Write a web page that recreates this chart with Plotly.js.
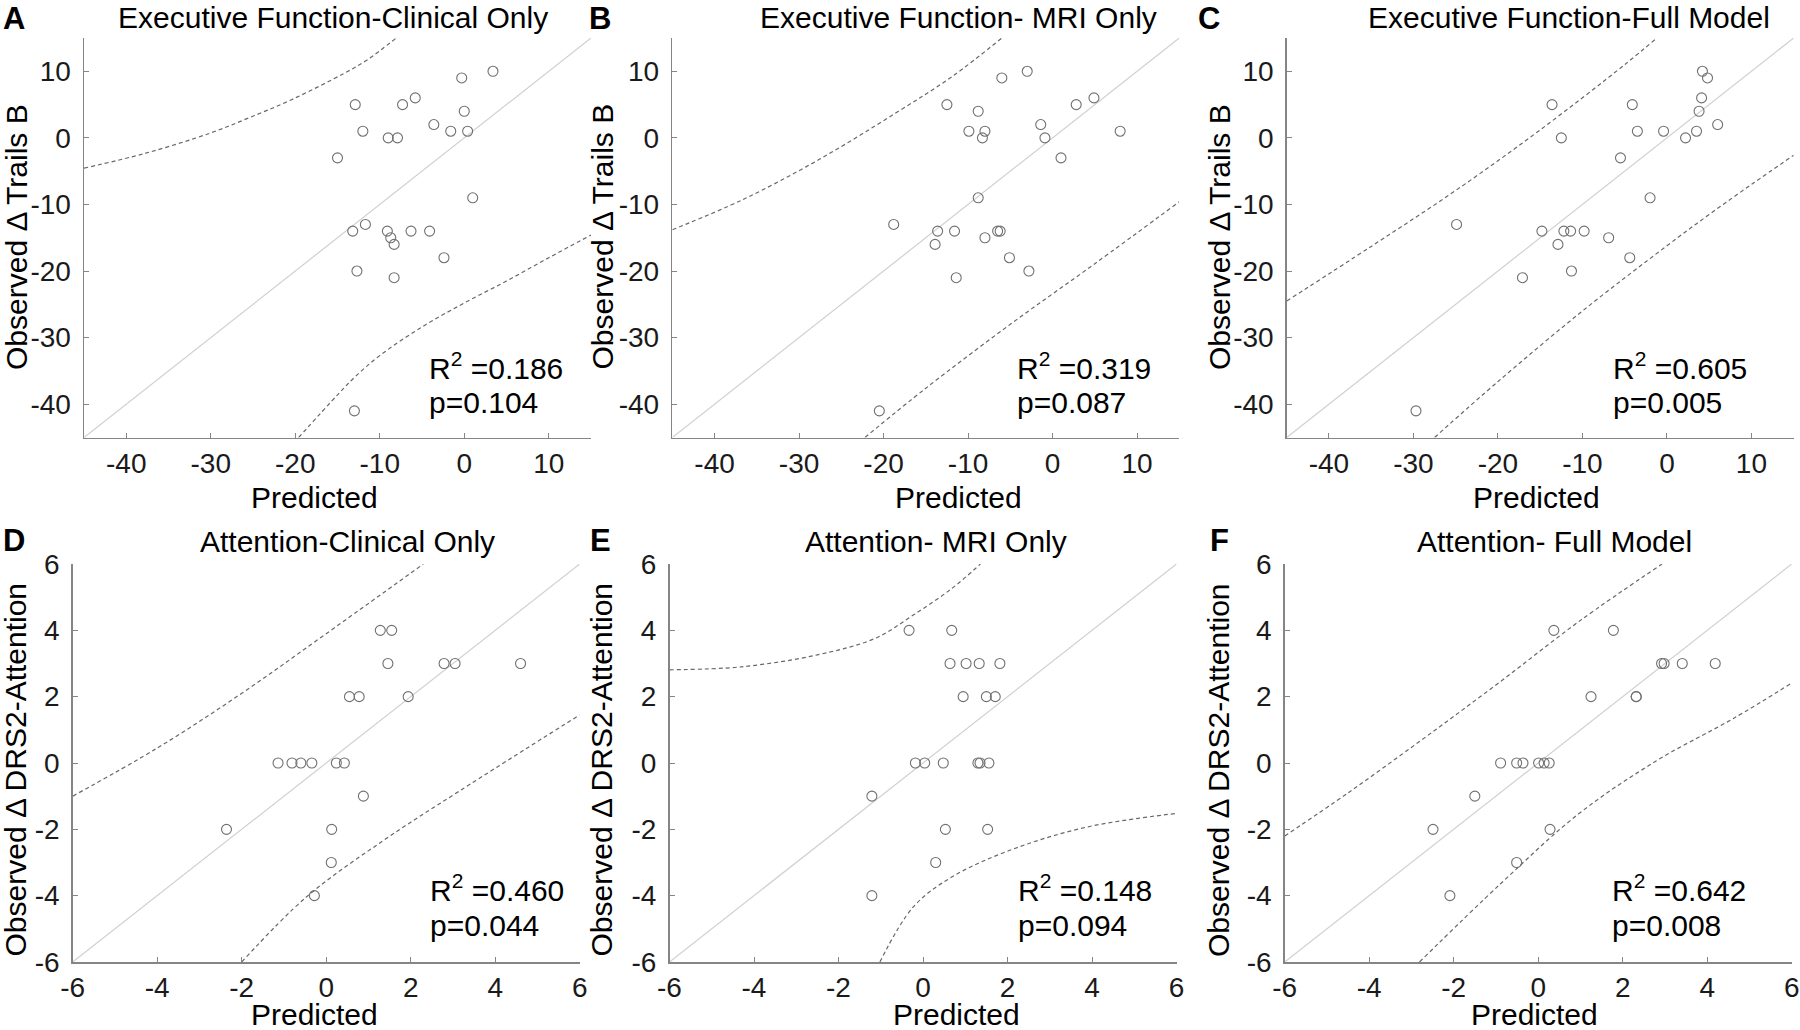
<!DOCTYPE html>
<html>
<head>
<meta charset="utf-8">
<script src="https://cdn.plot.ly/plotly-3.0.1.min.js"></script>
<style>html,body{margin:0;padding:0;background:#fff;}</style>
</head>
<body>
<div id="chart" style="width:1800px;height:1030px;"></div>
<script>
// ---------------- DATA ----------------
// Executive function (Observed Δ Trails B)
const efObserved = [10, 9, 5, 5, 6, 4, 2, 1, 1, 1, 0, 0, -3, -9, -13, -14, -14, -14, -14, -15, -16, -18, -20, -21, -41];
const efClinicalPred = [3.4, -0.3, -12.9, -7.3, -5.8, 0.0, -3.6, -12.0, -1.6, 0.4, -9.0, -7.9, -15.0, 1.0, -11.7, -13.2, -9.1, -6.3, -4.1, -8.7, -8.3, -2.4, -12.7, -8.3, -13.0];
const efMriPred = [-3.0, -6.0, -12.5, 2.8, 4.9, -8.8, -1.4, -9.9, -8.0, 8.0, -8.3, -0.9, 1.0, -8.8, -18.8, -13.6, -11.6, -6.5, -6.2, -8.0, -13.9, -5.1, -2.8, -11.4, -20.5];
const efFullPred = [4.2, 4.8, -13.6, -4.1, 4.1, 3.8, 6.0, -3.5, -0.4, 3.5, -12.5, 2.2, -5.5, -2.0, -24.9, -14.8, -12.2, -11.4, -9.8, -6.9, -12.9, -4.4, -11.3, -17.1, -29.7];

// Attention (Observed Δ DRS2-Attention)
const attObserved = [4, 4, 3, 3, 3, 3, 2, 2, 2, 0, 0, 0, 0, 0, 0, -1, -2, -2, -3, -4];
const attClinicalPred = [1.28, 1.55, 1.46, 2.79, 3.05, 4.6, 0.55, 0.78, 1.94, -1.14, -0.81, -0.6, -0.34, 0.24, 0.43, 0.88, -2.36, 0.13, 0.12, -0.28];
const attMriPred = [-0.33, 0.68, 0.64, 1.02, 1.33, 1.82, 0.95, 1.5, 1.71, -0.18, 0.04, 0.48, 1.30, 1.35, 1.56, -1.21, 0.53, 1.53, 0.30, -1.21];
const attFullPred = [0.37, 1.78, 2.92, 2.98, 3.41, 4.19, 1.25, 2.32, 2.32, -0.89, -0.51, -0.36, 0.01, 0.14, 0.26, -1.5, -2.49, 0.28, -0.51, -2.09];

// Identity lines (axis extents)
const efIdentity = [-45, 15];
const attIdentity = [-6, 6];

// Prediction bands (dashed)
const efClinUpperX = [-45, -37.7, -30.1, -25.5, -20.5, -14.2, -11.5, -8.05];
const efClinUpperY = [-4.55, -2.3, 0.7, 3.0, 5.7, 9.7, 11.7, 15];
const efClinLowerX = [-19.6, -15, -12.85, -10, -5, 0, 5, 10, 15];
const efClinLowerY = [-45, -38.6, -35.8, -32.7, -28.4, -24.8, -21.5, -18.0, -14.6];

const efMriUpperX = [-45, -36.7, -27.7, -18.6, -11.9, -6];
const efMriUpperY = [-13.8, -9.3, -3.3, 3.7, 9.2, 15];
const efMriLowerX = [-22.2, -15, -5, 5, 15];
const efMriLowerY = [-45, -37.6, -28.0, -18.9, -9.6];

const efFullUpperX = [-45, -35, -25, -15, -5, -1.2];
const efFullUpperY = [-24.5, -16.3, -7.9, 1.2, 11.0, 15];
const efFullLowerX = [-27.5, -20, -10, 0, 5, 10, 15];
const efFullLowerY = [-45, -36.6, -26.0, -16.2, -11.5, -7.0, -2.6];

const attClinUpperX = [-6, -4, -2, 0, 2.3];
const attClinUpperY = [-1.0, 0.45, 2.1, 3.9, 6.0];
const attClinLowerX = [-2, -0.47, 1.35, 3.16, 6];
const attClinLowerY = [-6, -4.04, -2.34, -0.84, 1.45];

const attMriUpperX = [-6, -4.3, -2.5, -1.13, -0.23, 0.68, 1.36];
const attMriUpperY = [2.81, 2.9, 3.26, 3.76, 4.46, 5.26, 6];
const attMriLowerX = [-1.02, -0.23, 0.68, 2.04, 3.85, 6];
const attMriLowerY = [-6, -4.34, -3.44, -2.64, -1.94, -1.52];

const attFullUpperX = [-6, -4.5, -2.7, -0.9, 1, 2.93];
const attFullUpperY = [-2.2, -0.9, 0.75, 2.45, 4.3, 6.0];
const attFullLowerX = [-2.81, -0.89, 0.95, 2.79, 4.63, 6];
const attFullLowerY = [-6, -3.64, -1.54, 0.06, 1.35, 2.41];

// Text
const panelLetters = ['A', 'B', 'C', 'D', 'E', 'F'];
const panelTitles = ['Executive Function-Clinical Only', 'Executive Function- MRI Only', 'Executive Function-Full Model',
                     'Attention-Clinical Only', 'Attention- MRI Only', 'Attention- Full Model'];
const r2Values = ['0.186', '0.319', '0.605', '0.460', '0.148', '0.642'];
const pValues = ['0.104', '0.087', '0.005', '0.044', '0.094', '0.008'];
const efTicks = [-40, -30, -20, -10, 0, 10];
const attTicks = [-6, -4, -2, 0, 2, 4, 6];
const efYTitle = 'Observed \u0394 Trails B';
const attYTitle = 'Observed \u0394 DRS2-Attention';
const xTitle = 'Predicted';

// ---------------- LAYOUT GEOMETRY (pixels) ----------------
const W = 1800, H = 1030;
const plotW = 507;
const panelLeft = [84, 672.3, 1286.7, 72.7, 669.5, 1284.7];
const rowTop = [38, 564];
const rowBottom = [437.5, 962];
const letterX = [14, 600, 1209, 14, 600, 1219];
const letterY = [null, 540];
const titleCenter = [333, 958, 1569, 347, 936, 1554];
const titleY = [null, 541];
const xTitleX = [314, 958, 1536, 314, 956, 1534];
const xTitleY = [497, 1014];
const yTitleX = [16, 601.5, 1219, 14.5, 600.5, 1218];
const yTitleY = [237, 770];
const statX = [-4.4, -4.45, -6.6, 2.42, 2.19, 1.7];

const FONT = 'Liberation Sans, Arial, Helvetica, sans-serif';
const AXIS_COLOR = '#858585';
const MARKER_COLOR = '#707070';
const DASH_COLOR = '#686868';
const ID_COLOR = '#d0d0d0';

const panels = [
  {pred: efClinicalPred, obs: efObserved, id: efIdentity, ux: efClinUpperX, uy: efClinUpperY, lx: efClinLowerX, ly: efClinLowerY},
  {pred: efMriPred, obs: efObserved, id: efIdentity, ux: efMriUpperX, uy: efMriUpperY, lx: efMriLowerX, ly: efMriLowerY},
  {pred: efFullPred, obs: efObserved, id: efIdentity, ux: efFullUpperX, uy: efFullUpperY, lx: efFullLowerX, ly: efFullLowerY},
  {pred: attClinicalPred, obs: attObserved, id: attIdentity, ux: attClinUpperX, uy: attClinUpperY, lx: attClinLowerX, ly: attClinLowerY},
  {pred: attMriPred, obs: attObserved, id: attIdentity, ux: attMriUpperX, uy: attMriUpperY, lx: attMriLowerX, ly: attMriLowerY},
  {pred: attFullPred, obs: attObserved, id: attIdentity, ux: attFullUpperX, uy: attFullUpperY, lx: attFullLowerX, ly: attFullLowerY}
];

const traces = [];
const layout = {
  width: W, height: H,
  margin: {l: 0, r: 0, t: 0, b: 0},
  paper_bgcolor: '#ffffff',
  plot_bgcolor: '#ffffff',
  showlegend: false,
  font: {family: FONT, color: '#1a1a1a'},
  annotations: []
};

panels.forEach((p, i) => {
  const n = i + 1;
  const xa = n === 1 ? 'x' : 'x' + n;
  const ya = n === 1 ? 'y' : 'y' + n;
  const row = i < 3 ? 0 : 1;
  const isEF = row === 0;

  traces.push({x: p.id, y: p.id, xaxis: xa, yaxis: ya, mode: 'lines', type: 'scatter',
    line: {color: ID_COLOR, width: 1.2}, hoverinfo: 'skip'});
  traces.push({x: p.ux, y: p.uy, xaxis: xa, yaxis: ya, mode: 'lines', type: 'scatter',
    line: {color: DASH_COLOR, width: 1.2, dash: '4px,3px', shape: 'spline', smoothing: 1}, hoverinfo: 'skip'});
  traces.push({x: p.lx, y: p.ly, xaxis: xa, yaxis: ya, mode: 'lines', type: 'scatter',
    line: {color: DASH_COLOR, width: 1.2, dash: '4px,3px', shape: 'spline', smoothing: 1}, hoverinfo: 'skip'});
  traces.push({x: p.pred, y: p.obs, xaxis: xa, yaxis: ya, mode: 'markers', type: 'scatter',
    marker: {symbol: 'circle-open', size: 10, color: MARKER_COLOR, line: {width: 1.1, color: MARKER_COLOR}}});

  const x0 = panelLeft[i] / W, x1 = (panelLeft[i] + plotW) / W;
  const y0 = 1 - rowBottom[row] / H, y1 = 1 - rowTop[row] / H;
  const rng = isEF ? [-45, 15] : [-6, 6];
  const ticks = isEF ? efTicks : attTicks;

  const common = {
    range: rng, tickmode: 'array', tickvals: ticks, ticktext: ticks.map(String),
    showline: true, linecolor: AXIS_COLOR, linewidth: 1.5, mirror: false,
    ticks: 'inside', ticklen: 5, tickwidth: 1, tickcolor: AXIS_COLOR,
    showgrid: false, zeroline: false, fixedrange: true,
    tickfont: {family: FONT, size: 28, color: '#1a1a1a'}
  };
  layout['xaxis' + (n === 1 ? '' : n)] = Object.assign({}, common, {
    domain: [x0, x1], anchor: ya, ticklabelstandoff: 0
  });
  layout['yaxis' + (n === 1 ? '' : n)] = Object.assign({}, common, {
    domain: [y0, y1], anchor: xa, ticklabelstandoff: 6
  });

  // panel letter
  const letter = {text: panelLetters[i], xref: 'paper', yref: 'paper',
    x: letterX[i] / W, xanchor: 'center', showarrow: false, borderpad: 0,
    font: {family: FONT, size: 31, color: '#000', weight: 'bold'}};
  if (row === 0) { letter.y = 1; letter.yanchor = 'top'; }
  else { letter.y = 1 - letterY[row] / H; letter.yanchor = 'middle'; }
  layout.annotations.push(letter);

  // panel title
  const title = {text: panelTitles[i], xref: 'paper', yref: 'paper',
    x: titleCenter[i] / W, xanchor: 'center', showarrow: false, borderpad: 0,
    font: {family: FONT, size: 30, color: '#000'}};
  if (row === 0) { title.y = 1; title.yanchor = 'top'; }
  else { title.y = 1 - titleY[row] / H; title.yanchor = 'middle'; }
  layout.annotations.push(title);

  // axis titles
  layout.annotations.push({text: xTitle, xref: 'paper', yref: 'paper',
    x: xTitleX[i] / W, y: 1 - xTitleY[row] / H, xanchor: 'center', yanchor: 'middle',
    showarrow: false, borderpad: 0, font: {family: FONT, size: 30, color: '#000'}});
  layout.annotations.push({text: isEF ? efYTitle : attYTitle, xref: 'paper', yref: 'paper',
    x: yTitleX[i] / W, y: 1 - yTitleY[row] / H, xanchor: 'center', yanchor: 'middle', textangle: -90,
    showarrow: false, borderpad: 0, font: {family: FONT, size: 30, color: '#000'}});

  // statistics
  layout.annotations.push({text: 'R<sup>2</sup> =' + r2Values[i], xref: xa, yref: ya,
    x: statX[i], y: isEF ? -34.2 : -3.78, xanchor: 'left', yanchor: 'middle',
    showarrow: false, font: {family: FONT, size: 30, color: '#000'}});
  layout.annotations.push({text: 'p=' + pValues[i], xref: xa, yref: ya,
    x: statX[i], y: isEF ? -39.7 : -4.9, xanchor: 'left', yanchor: 'middle',
    showarrow: false, font: {family: FONT, size: 30, color: '#000'}});
});

Plotly.newPlot('chart', traces, layout, {displayModeBar: false, staticPlot: true});
</script>
</body>
</html>
